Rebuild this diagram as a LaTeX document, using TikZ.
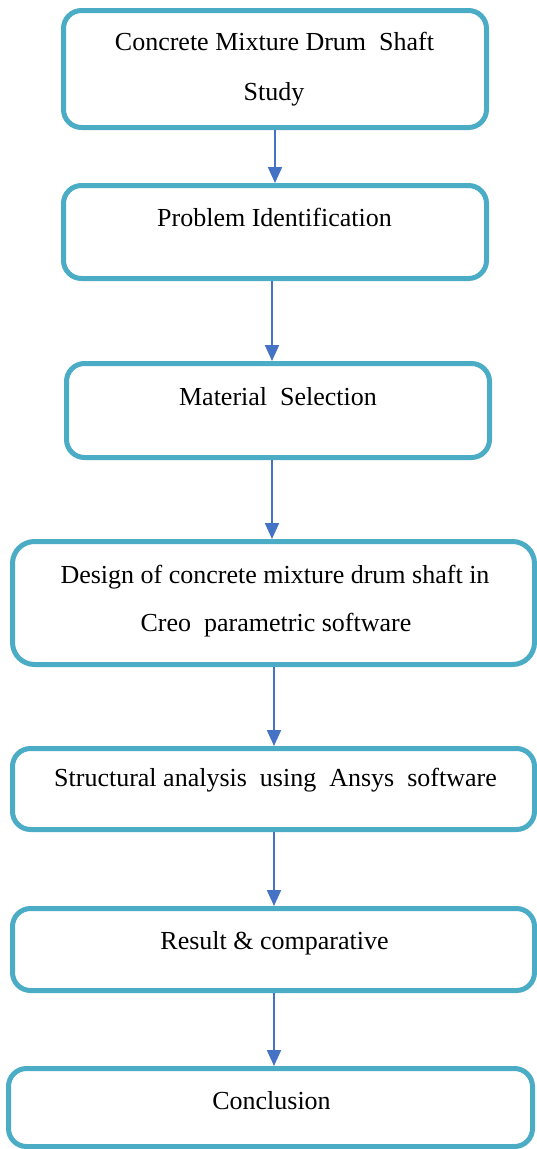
\documentclass[tikz,border=0pt]{standalone}
\usepackage{fontspec}
\setmainfont{Liberation Serif}
\usetikzlibrary{arrows.meta}
\definecolor{boxc}{HTML}{4BACC6}
\definecolor{arrc}{HTML}{4472C4}
\begin{document}
\begin{tikzpicture}[x=1pt,y=-1pt,
  box/.style={draw=boxc,line width=5pt,rounded corners=18pt,inner sep=0pt,fill=none},
  txt/.style={anchor=base,inner sep=0pt,font=\fontsize{26}{30}\selectfont},
  arr/.style={draw=arrc,line width=2pt,-{Triangle[width=14pt,length=16pt]}}]
\useasboundingbox[fill=white] (0,0) rectangle (536,1149);
\node[box,minimum width=423pt,minimum height=117pt] (b1) at (275,69) {};
\node[box,minimum width=423pt,minimum height=93pt] (b2) at (275,232) {};
\node[box,minimum width=423pt,minimum height=94pt] (b3) at (278,410.5) {};
\node[box,minimum width=522pt,minimum height=123pt,rounded corners=22pt] (b4) at (273.5,603) {};
\node[box,minimum width=522pt,minimum height=81pt] (b5) at (273.5,789) {};
\node[box,minimum width=522pt,minimum height=82pt] (b6) at (273.5,949.5) {};
\node[box,minimum width=524pt,minimum height=78pt] (b7) at (270.5,1107.5) {};
\node[txt] (t1a) at (274.5,50) {Concrete Mixture Drum\ \ Shaft};
\node[txt] (t1b) at (274,100) {Study};
\node[txt] (t2) at (274.5,226) {Problem Identification};
\node[txt] (t3) at (278,405) {Material\ \ Selection};
\node[txt] (t4a) at (275,583) {Design of concrete mixture drum shaft in};
\node[txt] (t4b) at (276,631) {Creo\ \ parametric software};
\node[txt] (t5) at (275.5,786) {Structural analysis\ \ using\ \ Ansys\ \ software};
\node[txt] (t6) at (274.5,949) {Result \& comparative};
\node[txt] (t7) at (271.5,1109) {Conclusion};
\draw[arr] (b1.south) -- (b1.south |- b2.north);
\draw[arr] ([xshift=-3pt]b2.south) -- ([xshift=-3pt]b2.south |- b3.north);
\draw[arr] ([xshift=-6pt]b3.south) -- ([xshift=-6pt]b3.south |- b4.north);
\draw[arr] ([xshift=0.5pt]b4.south) -- ([xshift=0.5pt]b4.south |- b5.north);
\draw[arr] ([xshift=0.5pt]b5.south) -- ([xshift=0.5pt]b5.south |- b6.north);
\draw[arr] ([xshift=0.5pt]b6.south) -- ([xshift=0.5pt]b6.south |- b7.north);
\end{tikzpicture}
\end{document}
